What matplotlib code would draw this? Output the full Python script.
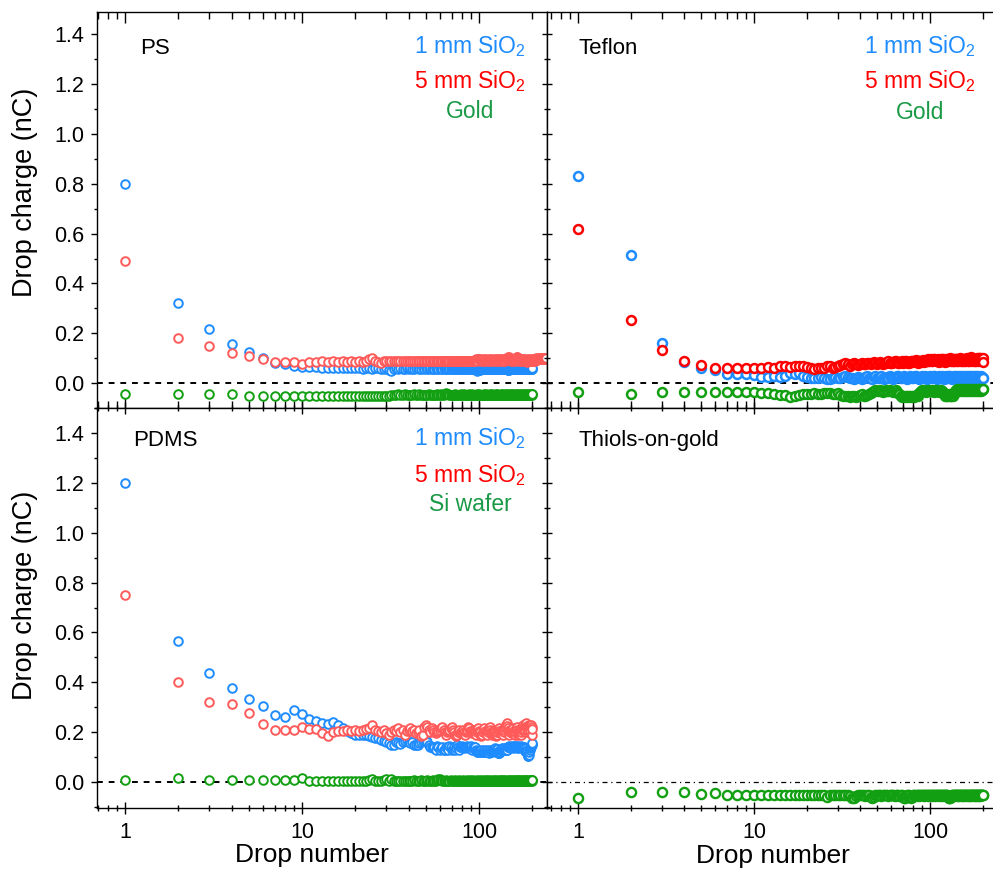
import numpy as np
import matplotlib
matplotlib.use("Agg")
import matplotlib.pyplot as plt
from matplotlib.ticker import LogLocator, MultipleLocator, FormatStrFormatter, NullFormatter

plt.rcParams['font.family'] = ['Liberation Sans', 'DejaVu Sans']
plt.rcParams['mathtext.fontset'] = 'custom'
plt.rcParams['mathtext.rm'] = 'Liberation Sans'
plt.rcParams['mathtext.it'] = 'Liberation Sans:italic'

# ---- data: drop charge (nC) per drop number (1, 2, 3, ...) ----
ps_1mm = [0.80, 0.323, 0.218, 0.157, 0.126, 0.10, 0.08, 0.078, 0.068, 0.066, 0.066, 0.064, 0.06, 0.06, 0.061, 0.059, 0.06, 0.06, 0.059, 0.06,
          0.059, 0.058, 0.06, 0.059, 0.058, 0.06, 0.059, 0.058, 0.057, 0.06, 0.052, 0.05, 0.056, 0.06, 0.058, 0.059, 0.057, 0.058, 0.06, 0.058,
          0.059, 0.057, 0.058, 0.06, 0.059, 0.058, 0.057, 0.059, 0.058, 0.06, 0.058, 0.057, 0.059, 0.058, 0.056, 0.058, 0.059, 0.057, 0.058, 0.059,
          0.057, 0.058, 0.059, 0.056, 0.058, 0.057, 0.059, 0.058, 0.057, 0.058, 0.059, 0.058, 0.057, 0.058, 0.056, 0.058, 0.059, 0.057, 0.058, 0.058,
          0.057, 0.059, 0.058, 0.057, 0.058, 0.059, 0.057, 0.058, 0.056, 0.058, 0.057, 0.058, 0.059, 0.057, 0.058, 0.056, 0.052, 0.05, 0.051, 0.053,
          0.052, 0.055, 0.057, 0.058, 0.056, 0.057, 0.058, 0.056, 0.057, 0.058, 0.056, 0.058, 0.057, 0.056, 0.058, 0.057, 0.056, 0.058, 0.057, 0.056,
          0.058, 0.057, 0.056, 0.058, 0.057, 0.056, 0.058, 0.057, 0.056, 0.057, 0.058, 0.056, 0.057, 0.058, 0.056, 0.057, 0.058, 0.056, 0.057, 0.058,
          0.056, 0.057, 0.058, 0.055, 0.052, 0.051, 0.053, 0.055, 0.057, 0.056, 0.058, 0.057, 0.056, 0.058, 0.057, 0.056, 0.058, 0.057, 0.056, 0.057,
          0.058, 0.056, 0.057, 0.058, 0.056, 0.057, 0.058, 0.056, 0.057, 0.058, 0.056, 0.057, 0.058, 0.056, 0.057, 0.058, 0.056, 0.057, 0.058, 0.056,
          0.057, 0.058, 0.056, 0.057, 0.058, 0.056, 0.057, 0.058, 0.056, 0.057, 0.058, 0.056, 0.057, 0.058, 0.056, 0.057, 0.058, 0.057, 0.058, 0.059]
ps_5mm = [0.49, 0.18, 0.15, 0.12, 0.11, 0.095, 0.085, 0.085, 0.085, 0.075, 0.085, 0.085, 0.087, 0.085, 0.087, 0.085, 0.087, 0.085, 0.087, 0.085,
          0.087, 0.085, 0.09, 0.095, 0.10, 0.09, 0.085, 0.08, 0.087, 0.09, 0.09, 0.088, 0.09, 0.087, 0.09, 0.088, 0.09, 0.087, 0.09, 0.088,
          0.09, 0.088, 0.087, 0.09, 0.088, 0.09, 0.087, 0.088, 0.09, 0.088, 0.087, 0.09, 0.088, 0.09, 0.087, 0.088, 0.09, 0.088, 0.087, 0.09,
          0.088, 0.09, 0.087, 0.088, 0.09, 0.088, 0.087, 0.09, 0.088, 0.09, 0.087, 0.088, 0.09, 0.088, 0.087, 0.09, 0.088, 0.09, 0.087, 0.088,
          0.09, 0.088, 0.087, 0.09, 0.088, 0.09, 0.087, 0.088, 0.09, 0.088, 0.087, 0.09, 0.088, 0.09, 0.092, 0.095, 0.093, 0.09, 0.095, 0.097,
          0.093, 0.09, 0.095, 0.092, 0.09, 0.093, 0.095, 0.09, 0.092, 0.095, 0.093, 0.09, 0.092, 0.095, 0.093, 0.09, 0.095, 0.092, 0.09, 0.093,
          0.095, 0.092, 0.09, 0.093, 0.095, 0.09, 0.092, 0.095, 0.093, 0.09, 0.092, 0.095, 0.093, 0.09, 0.095, 0.092, 0.09, 0.093, 0.095, 0.092,
          0.09, 0.095, 0.093, 0.097, 0.10, 0.105, 0.103, 0.10, 0.097, 0.095, 0.093, 0.09, 0.095, 0.092, 0.09, 0.093, 0.095, 0.092, 0.09, 0.093,
          0.095, 0.10, 0.105, 0.103, 0.10, 0.097, 0.095, 0.093, 0.09, 0.092, 0.095, 0.093, 0.09, 0.095, 0.092, 0.09, 0.093, 0.095, 0.092, 0.09,
          0.093, 0.095, 0.092, 0.09, 0.088, 0.085, 0.088, 0.09, 0.093, 0.095, 0.092, 0.09, 0.093, 0.095, 0.092, 0.09, 0.088, 0.09, 0.093, 0.095,
          0.092, 0.09, 0.093, 0.095, 0.092, 0.09, 0.093, 0.095, 0.097, 0.10, 0.098, 0.095, 0.093, 0.095, 0.098, 0.10, 0.097, 0.095, 0.098, 0.10,
          0.098, 0.095, 0.097, 0.10, 0.098, 0.095, 0.097, 0.10, 0.102, 0.10, 0.098, 0.10, 0.097, 0.095, 0.098, 0.10, 0.102, 0.10, 0.098, 0.10]
ps_gold = [-0.045, -0.045, -0.045, -0.045, -0.053, -0.053, -0.053, -0.053, -0.052, -0.053, -0.053, -0.052, -0.053, -0.053, -0.052, -0.053, -0.052, -0.053, -0.053, -0.052,
           -0.053, -0.052, -0.053, -0.052, -0.053, -0.052, -0.053, -0.052, -0.05, -0.052, -0.05, -0.048, -0.047, -0.046, -0.045, -0.047, -0.046, -0.045, -0.047, -0.048,
           -0.047, -0.046, -0.045, -0.047, -0.046, -0.045, -0.047, -0.046, -0.048, -0.047, -0.046, -0.045, -0.047, -0.046, -0.048, -0.047, -0.046, -0.045, -0.047, -0.046,
           -0.045, -0.047, -0.046, -0.042, -0.04, -0.042, -0.045, -0.047, -0.046, -0.048, -0.047, -0.046, -0.045, -0.047, -0.046, -0.048, -0.047, -0.046, -0.045, -0.047,
           -0.046, -0.045, -0.047, -0.046, -0.048, -0.047, -0.046, -0.045, -0.047, -0.046, -0.045, -0.047, -0.046, -0.048, -0.047, -0.046, -0.045, -0.047, -0.046, -0.045,
           -0.047, -0.046, -0.048, -0.047, -0.046, -0.045, -0.047, -0.046, -0.045, -0.047, -0.046, -0.048, -0.047, -0.046, -0.045, -0.047, -0.046, -0.045, -0.047, -0.046,
           -0.048, -0.047, -0.046, -0.045, -0.047, -0.046, -0.045, -0.047, -0.046, -0.048, -0.047, -0.046, -0.045, -0.047, -0.046, -0.045, -0.047, -0.046, -0.048, -0.047,
           -0.046, -0.045, -0.047, -0.046, -0.045, -0.047, -0.046, -0.048, -0.047, -0.046, -0.045, -0.047, -0.046, -0.045, -0.047, -0.046, -0.048, -0.047, -0.046, -0.045,
           -0.047, -0.046, -0.045, -0.047, -0.046, -0.048, -0.047, -0.046, -0.045, -0.047, -0.046, -0.045, -0.047, -0.046, -0.048, -0.047, -0.046, -0.045, -0.047, -0.046,
           -0.045, -0.047, -0.046, -0.048, -0.047, -0.046, -0.045, -0.047, -0.046, -0.045, -0.047, -0.046, -0.048, -0.047, -0.046, -0.045, -0.047, -0.046, -0.045, -0.045]

teflon_1mm = [0.83, 0.515, 0.16, 0.085, 0.059, 0.052, 0.035, 0.035, 0.035, 0.033, 0.025, 0.025, 0.027, 0.025, 0.03, 0.04, 0.035, 0.04, 0.03, 0.025,
              0.022, 0.02, 0.022, 0.025, 0.02, 0.015, 0.018, 0.022, 0.025, 0.02, 0.022, 0.025, 0.03, 0.025, 0.022, 0.02, 0.018, 0.022, 0.025, 0.02,
              0.018, 0.022, 0.025, 0.028, 0.022, 0.02, 0.018, 0.025, 0.028, 0.022, 0.02, 0.025, 0.028, 0.022, 0.018, 0.02, 0.025, 0.022, 0.028, 0.025,
              0.02, 0.018, 0.022, 0.025, 0.028, 0.03, 0.025, 0.022, 0.02, 0.025, 0.028, 0.022, 0.02, 0.018, 0.022, 0.025, 0.028, 0.025, 0.022, 0.02,
              0.025, 0.028, 0.03, 0.025, 0.022, 0.02, 0.018, 0.022, 0.025, 0.028, 0.022, 0.02, 0.025, 0.028, 0.022, 0.018, 0.02, 0.025, 0.022, 0.028,
              0.025, 0.022, 0.02, 0.025, 0.03, 0.028, 0.022, 0.02, 0.018, 0.022, 0.025, 0.028, 0.025, 0.022, 0.02, 0.025, 0.028, 0.022, 0.02, 0.018,
              0.022, 0.025, 0.028, 0.025, 0.022, 0.02, 0.025, 0.028, 0.03, 0.025, 0.022, 0.02, 0.018, 0.022, 0.025, 0.028, 0.022, 0.02, 0.025, 0.028,
              0.022, 0.018, 0.02, 0.025, 0.022, 0.028, 0.025, 0.022, 0.02, 0.025, 0.028, 0.022, 0.02, 0.018, 0.022, 0.025, 0.028, 0.025, 0.022, 0.02,
              0.025, 0.028, 0.022, 0.02, 0.025, 0.028, 0.022, 0.018, 0.02, 0.025, 0.022, 0.028, 0.025, 0.022, 0.02, 0.025, 0.028, 0.022, 0.02, 0.018,
              0.022, 0.025, 0.028, 0.025, 0.022, 0.02, 0.025, 0.028, 0.022, 0.02, 0.018, 0.022, 0.025, 0.028, 0.025, 0.022, 0.02, 0.025, 0.022, 0.022]
teflon_5mm = [0.62, 0.253, 0.133, 0.089, 0.072, 0.062, 0.059, 0.059, 0.059, 0.06, 0.062, 0.065, 0.06, 0.068, 0.07, 0.065, 0.07, 0.07, 0.068, 0.065,
              0.06, 0.058, 0.06, 0.062, 0.06, 0.068, 0.07, 0.06, 0.065, 0.07, 0.072, 0.075, 0.08, 0.075, 0.07, 0.078, 0.08, 0.075, 0.072, 0.078,
              0.08, 0.078, 0.075, 0.08, 0.082, 0.078, 0.08, 0.085, 0.08, 0.078, 0.082, 0.085, 0.08, 0.078, 0.082, 0.08, 0.085, 0.088, 0.082, 0.08,
              0.082, 0.085, 0.088, 0.09, 0.085, 0.082, 0.08, 0.085, 0.088, 0.082, 0.085, 0.09, 0.088, 0.085, 0.082, 0.08, 0.085, 0.088, 0.09, 0.085,
              0.088, 0.09, 0.092, 0.088, 0.085, 0.082, 0.088, 0.09, 0.085, 0.088, 0.092, 0.09, 0.085, 0.088, 0.09, 0.092, 0.095, 0.09, 0.088, 0.092,
              0.095, 0.09, 0.088, 0.092, 0.095, 0.098, 0.092, 0.09, 0.088, 0.092, 0.095, 0.09, 0.085, 0.088, 0.092, 0.095, 0.098, 0.095, 0.09, 0.088,
              0.085, 0.088, 0.092, 0.095, 0.09, 0.088, 0.092, 0.095, 0.098, 0.1, 0.095, 0.09, 0.088, 0.092, 0.095, 0.09, 0.088, 0.092, 0.095, 0.098,
              0.095, 0.092, 0.09, 0.088, 0.092, 0.095, 0.098, 0.1, 0.095, 0.092, 0.09, 0.088, 0.092, 0.095, 0.098, 0.095, 0.09, 0.088, 0.092, 0.095,
              0.098, 0.1, 0.095, 0.092, 0.088, 0.09, 0.095, 0.098, 0.1, 0.105, 0.1, 0.095, 0.092, 0.09, 0.095, 0.098, 0.095, 0.092, 0.09, 0.088,
              0.092, 0.095, 0.098, 0.1, 0.095, 0.092, 0.09, 0.095, 0.098, 0.1, 0.102, 0.098, 0.095, 0.092, 0.098, 0.1, 0.095, 0.092, 0.1, 0.085]
teflon_gold = [-0.034, -0.044, -0.034, -0.034, -0.034, -0.035, -0.035, -0.035, -0.036, -0.036, -0.038, -0.04, -0.045, -0.046, -0.048, -0.055, -0.05, -0.046, -0.045, -0.044,
               -0.045, -0.04, -0.042, -0.045, -0.04, -0.038, -0.04, -0.042, -0.045, -0.04, -0.048, -0.05, -0.052, -0.05, -0.055, -0.05, -0.052, -0.055, -0.05, -0.048,
               -0.045, -0.05, -0.052, -0.048, -0.045, -0.04, -0.035, -0.03, -0.028, -0.03, -0.032, -0.028, -0.03, -0.035, -0.03, -0.028, -0.032, -0.03, -0.028, -0.03,
               -0.032, -0.035, -0.03, -0.028, -0.035, -0.04, -0.045, -0.05, -0.055, -0.052, -0.05, -0.055, -0.052, -0.05, -0.055, -0.05, -0.052, -0.055, -0.05, -0.052,
               -0.055, -0.05, -0.052, -0.048, -0.05, -0.045, -0.04, -0.035, -0.03, -0.028, -0.03, -0.032, -0.028, -0.03, -0.035, -0.032, -0.03, -0.028, -0.03, -0.032,
               -0.03, -0.028, -0.03, -0.032, -0.035, -0.03, -0.028, -0.032, -0.03, -0.028, -0.03, -0.035, -0.032, -0.03, -0.028, -0.03, -0.032, -0.035, -0.04, -0.045,
               -0.05, -0.048, -0.045, -0.05, -0.052, -0.048, -0.05, -0.045, -0.048, -0.05, -0.052, -0.05, -0.045, -0.048, -0.05, -0.045, -0.04, -0.035, -0.03, -0.028,
               -0.03, -0.028, -0.025, -0.028, -0.03, -0.027, -0.025, -0.028, -0.03, -0.028, -0.025, -0.027, -0.03, -0.028, -0.025, -0.027, -0.028, -0.03, -0.028, -0.025,
               -0.027, -0.03, -0.028, -0.025, -0.027, -0.028, -0.03, -0.028, -0.025, -0.027, -0.03, -0.028, -0.025, -0.027, -0.028, -0.03, -0.028, -0.025, -0.027, -0.03,
               -0.028, -0.025, -0.027, -0.028, -0.03, -0.028, -0.025, -0.027, -0.03, -0.028, -0.025, -0.027, -0.028, -0.03, -0.028, -0.025, -0.027, -0.028, -0.025, -0.025]

pdms_1mm = [1.20, 0.567, 0.438, 0.376, 0.332, 0.305, 0.269, 0.262, 0.289, 0.273, 0.252, 0.246, 0.238, 0.232, 0.24, 0.229, 0.215, 0.205, 0.195, 0.19,
            0.19, 0.188, 0.19, 0.185, 0.18, 0.175, 0.178, 0.17, 0.165, 0.16, 0.155, 0.148, 0.15, 0.16, 0.155, 0.152, 0.16, 0.165, 0.17, 0.16,
            0.155, 0.16, 0.15, 0.148, 0.148, 0.155, 0.16, 0.165, 0.17, 0.17, 0.16, 0.15, 0.14, 0.142, 0.135, 0.14, 0.13, 0.145, 0.14, 0.13,
            0.135, 0.14, 0.13, 0.128, 0.14, 0.135, 0.13, 0.145, 0.14, 0.128, 0.132, 0.14, 0.13, 0.135, 0.15, 0.14, 0.13, 0.14, 0.142, 0.145,
            0.14, 0.135, 0.142, 0.14, 0.145, 0.14, 0.138, 0.142, 0.14, 0.145, 0.13, 0.14, 0.135, 0.142, 0.14, 0.13, 0.125, 0.122, 0.12, 0.125,
            0.122, 0.12, 0.128, 0.122, 0.12, 0.125, 0.13, 0.122, 0.12, 0.125, 0.13, 0.122, 0.12, 0.118, 0.125, 0.13, 0.122, 0.12, 0.128, 0.125,
            0.125, 0.13, 0.135, 0.13, 0.128, 0.132, 0.12, 0.116, 0.115, 0.116, 0.12, 0.128, 0.13, 0.135, 0.13, 0.128, 0.132, 0.13, 0.135, 0.13,
            0.13, 0.135, 0.128, 0.13, 0.14, 0.142, 0.14, 0.145, 0.14, 0.142, 0.142, 0.14, 0.145, 0.14, 0.142, 0.138, 0.14, 0.145, 0.142, 0.14,
            0.145, 0.14, 0.142, 0.138, 0.14, 0.145, 0.142, 0.14, 0.135, 0.14, 0.142, 0.14, 0.145, 0.14, 0.142, 0.138, 0.14, 0.142, 0.14, 0.135,
            0.13, 0.125, 0.12, 0.13, 0.135, 0.128, 0.12, 0.11, 0.105, 0.104, 0.11, 0.12, 0.13, 0.135, 0.14, 0.142, 0.145, 0.15, 0.152, 0.155]
pdms_5mm = [0.752, 0.40, 0.323, 0.313, 0.278, 0.233, 0.209, 0.209, 0.209, 0.22, 0.212, 0.212, 0.196, 0.185, 0.20, 0.205, 0.205, 0.21, 0.205, 0.21,
            0.205, 0.21, 0.212, 0.215, 0.229, 0.21, 0.205, 0.20, 0.21, 0.195, 0.19, 0.20, 0.21, 0.205, 0.215, 0.20, 0.21, 0.19, 0.205, 0.21,
            0.215, 0.205, 0.21, 0.195, 0.20, 0.21, 0.185, 0.19, 0.22, 0.23, 0.22, 0.21, 0.20, 0.215, 0.21, 0.20, 0.195, 0.20, 0.205, 0.21,
            0.215, 0.22, 0.21, 0.20, 0.19, 0.20, 0.205, 0.21, 0.215, 0.22, 0.21, 0.20, 0.19, 0.185, 0.19, 0.20, 0.21, 0.195, 0.20, 0.205,
            0.21, 0.20, 0.19, 0.20, 0.205, 0.21, 0.22, 0.215, 0.205, 0.20, 0.195, 0.20, 0.21, 0.205, 0.20, 0.19, 0.20, 0.21, 0.215, 0.205,
            0.20, 0.19, 0.185, 0.19, 0.20, 0.21, 0.215, 0.205, 0.20, 0.195, 0.19, 0.20, 0.21, 0.215, 0.22, 0.21, 0.20, 0.19, 0.195, 0.20,
            0.21, 0.205, 0.20, 0.19, 0.185, 0.19, 0.20, 0.21, 0.215, 0.205, 0.20, 0.195, 0.20, 0.21, 0.205, 0.20, 0.19, 0.20, 0.21, 0.215,
            0.22, 0.23, 0.235, 0.225, 0.215, 0.205, 0.20, 0.19, 0.20, 0.21, 0.205, 0.20, 0.195, 0.20, 0.21, 0.215, 0.205, 0.20, 0.19, 0.20,
            0.21, 0.215, 0.22, 0.21, 0.20, 0.19, 0.195, 0.20, 0.21, 0.205, 0.20, 0.19, 0.20, 0.21, 0.215, 0.22, 0.225, 0.23, 0.22, 0.21,
            0.20, 0.21, 0.22, 0.23, 0.235, 0.225, 0.215, 0.205, 0.20, 0.21, 0.22, 0.23, 0.225, 0.215, 0.21, 0.22, 0.23, 0.22, 0.19, 0.214]
pdms_si = [0.008, 0.016, 0.008, 0.008, 0.008, 0.008, 0.008, 0.008, 0.008, 0.015, 0.006, 0.006, 0.005, 0.006, 0.005, 0.006, 0.005, 0.006, 0.006, 0.005,
           0.006, 0.005, 0.006, 0.008, 0.014, 0.006, 0.005, 0.006, 0.008, 0.014, 0.006, 0.013, 0.006, 0.005, 0.006, 0.005, 0.006, 0.006, 0.005, 0.006,
           0.005, 0.006, 0.007, 0.006, 0.005, 0.006, 0.007, 0.006, 0.005, 0.006, 0.007, 0.006, 0.005, 0.006, 0.007, 0.006, 0.005, 0.008, 0.012, 0.014,
           0.008, 0.006, 0.005, 0.006, 0.007, 0.006, 0.005, 0.006, 0.007, 0.006, 0.005, 0.006, 0.007, 0.006, 0.005, 0.006, 0.007, 0.006, 0.005, 0.006,
           0.007, 0.006, 0.005, 0.006, 0.007, 0.006, 0.005, 0.006, 0.007, 0.006, 0.005, 0.006, 0.007, 0.006, 0.005, 0.006, 0.007, 0.006, 0.005, 0.006,
           0.007, 0.006, 0.005, 0.006, 0.007, 0.006, 0.005, 0.006, 0.007, 0.006, 0.005, 0.006, 0.007, 0.006, 0.005, 0.006, 0.007, 0.006, 0.005, 0.006,
           0.007, 0.006, 0.005, 0.006, 0.007, 0.006, 0.005, 0.006, 0.007, 0.006, 0.005, 0.006, 0.007, 0.006, 0.005, 0.006, 0.007, 0.006, 0.005, 0.006,
           0.007, 0.006, 0.005, 0.006, 0.007, 0.006, 0.005, 0.006, 0.007, 0.006, 0.005, 0.006, 0.007, 0.006, 0.005, 0.006, 0.007, 0.006, 0.005, 0.006,
           0.007, 0.006, 0.005, 0.006, 0.007, 0.006, 0.005, 0.006, 0.007, 0.006, 0.005, 0.006, 0.007, 0.006, 0.005, 0.006, 0.007, 0.006, 0.005, 0.006,
           0.007, 0.006, 0.005, 0.006, 0.007, 0.006, 0.005, 0.006, 0.007, 0.006, 0.005, 0.006, 0.007, 0.006, 0.005, 0.006, 0.007, 0.006, 0.007, 0.008]

thiol_gold = [-0.065, -0.041, -0.041, -0.041, -0.047, -0.045, -0.05, -0.05, -0.05, -0.05, -0.05, -0.05, -0.05, -0.05, -0.05, -0.05, -0.05, -0.05, -0.05, -0.05,
              -0.05, -0.05, -0.05, -0.05, -0.05, -0.06, -0.052, -0.05, -0.05, -0.05, -0.05, -0.05, -0.052, -0.05, -0.055, -0.065, -0.062, -0.055, -0.052, -0.05,
              -0.05, -0.052, -0.055, -0.05, -0.052, -0.06, -0.065, -0.058, -0.052, -0.05, -0.052, -0.05, -0.055, -0.052, -0.05, -0.052, -0.05, -0.055, -0.052, -0.05,
              -0.052, -0.05, -0.055, -0.052, -0.05, -0.052, -0.055, -0.05, -0.052, -0.06, -0.065, -0.062, -0.055, -0.052, -0.05, -0.052, -0.06, -0.065, -0.058, -0.052,
              -0.05, -0.052, -0.055, -0.05, -0.052, -0.05, -0.055, -0.052, -0.05, -0.052, -0.05, -0.055, -0.052, -0.05, -0.052, -0.05, -0.055, -0.052, -0.05, -0.052,
              -0.05, -0.055, -0.052, -0.05, -0.052, -0.05, -0.055, -0.052, -0.05, -0.052, -0.05, -0.055, -0.052, -0.05, -0.052, -0.05, -0.055, -0.052, -0.05, -0.052,
              -0.05, -0.055, -0.052, -0.05, -0.052, -0.055, -0.06, -0.065, -0.062, -0.065, -0.06, -0.055, -0.052, -0.05, -0.052, -0.05, -0.055, -0.052, -0.05, -0.052,
              -0.05, -0.055, -0.052, -0.05, -0.052, -0.05, -0.055, -0.052, -0.05, -0.052, -0.05, -0.055, -0.052, -0.05, -0.052, -0.05, -0.055, -0.052, -0.05, -0.052,
              -0.05, -0.055, -0.052, -0.05, -0.052, -0.05, -0.055, -0.052, -0.05, -0.052, -0.05, -0.055, -0.052, -0.05, -0.052, -0.05, -0.055, -0.052, -0.05, -0.052,
              -0.05, -0.055, -0.052, -0.05, -0.052, -0.05, -0.055, -0.052, -0.05, -0.052, -0.05, -0.055, -0.052, -0.05, -0.052, -0.05, -0.052, -0.05, -0.05, -0.05]

BLUE = '#1E8CFF'
LRED = '#FF5A5A'
RED = '#FF0000'
GREEN = '#12A012'
TGREEN = '#1A9A46'


def drops(vals):
    return np.arange(1, len(vals) + 1)


def rings(ax, vals, color, ms=6.2, mew=1.4, clip=True):
    ax.plot(drops(vals), vals, 'o', ls='none', mfc='white', mec=color,
            ms=ms, mew=mew, clip_on=clip)


def style(ax, xlim, ylim, left_labels, bottom_labels, ydir):
    ax.set_xscale('log')
    ax.set_xlim(*xlim)
    ax.set_ylim(*ylim)
    ax.xaxis.set_major_locator(LogLocator(base=10, numticks=10))
    ax.xaxis.set_minor_locator(LogLocator(base=10, subs=np.arange(2, 10), numticks=10))
    ax.yaxis.set_major_locator(MultipleLocator(0.2))
    ax.yaxis.set_minor_locator(MultipleLocator(0.1))
    ax.yaxis.set_major_formatter(FormatStrFormatter('%.1f'))
    xdir = 'inout' if bottom_labels else 'in'
    ax.tick_params(axis='x', which='both', top=True, bottom=True, direction=xdir,
                   labelbottom=bottom_labels, labelsize=15.5, pad=6)
    ax.tick_params(axis='x', which='major', length=8, width=1)
    ax.tick_params(axis='x', which='minor', length=5, width=1)
    ax.tick_params(axis='y', which='both', left=True, right=False, direction=ydir,
                   labelleft=left_labels, labelsize=15.5, pad=5)
    ax.tick_params(axis='y', which='major', length=4 if ydir == 'out' else 7, width=1)
    ax.tick_params(axis='y', which='minor', length=2.5 if ydir == 'out' else 5, width=1)
    if bottom_labels:
        ax.xaxis.set_major_formatter(FormatStrFormatter('%d'))
    ax.xaxis.set_minor_formatter(NullFormatter())
    for s in ax.spines.values():
        s.set_linewidth(1.0)


def labels(ax, name, lines, cx, ys, name_xy):
    ax.text(name_xy[0], name_xy[1], name, transform=ax.transAxes, fontsize=16,
            ha='left', va='center', color='black')
    for (txt, col), y in zip(lines, ys):
        ax.text(cx, y, txt, transform=ax.transAxes, fontsize=16.5, ha='center',
                va='center', color=col)


fig = plt.figure(figsize=(9.93, 8.71), dpi=100)
W, H = 993, 871
ax_ps = fig.add_axes([97 / W, 1 - 408 / H, 450 / W, 396 / H])
ax_tf = fig.add_axes([547 / W, 1 - 408 / H, 446 / W, 396 / H])
ax_pd = fig.add_axes([97 / W, 1 - 808 / H, 450 / W, 400 / H])
ax_th = fig.add_axes([547 / W, 1 - 808 / H, 446 / W, 400 / H])

xl_left = (0.695, 242)
xl_right = (0.667, 228)

# PS
ax_ps.axhline(0, color='black', lw=1.4, ls=(0, (3, 3)), zorder=1)
rings(ax_ps, ps_1mm, BLUE)
rings(ax_ps, ps_5mm, LRED, clip=False)
rings(ax_ps, ps_gold, GREEN)
style(ax_ps, xl_left, (-0.1, 1.49), True, False, 'out')

# Teflon
ax_tf.axhline(0, color='black', lw=1.4, ls=(0, (3, 3)), zorder=1)
rings(ax_tf, teflon_1mm, BLUE, ms=6.4, mew=1.8)
rings(ax_tf, teflon_5mm, RED, ms=6.4, mew=1.8)
rings(ax_tf, teflon_gold, GREEN, ms=6.4, mew=1.8)
style(ax_tf, xl_right, (-0.1, 1.49), False, False, 'inout')
ax_tf.spines['right'].set_visible(False)

# PDMS
ax_pd.axhline(0, color='black', lw=1.4, ls=(0, (3, 3)), zorder=1)
rings(ax_pd, pdms_1mm, BLUE)
rings(ax_pd, pdms_5mm, LRED)
rings(ax_pd, pdms_si, GREEN)
style(ax_pd, xl_left, (-0.104, 1.5), True, True, 'out')

# Thiols-on-gold
ax_th.axhline(0, color='black', lw=0.9, ls=(0, (4, 3, 1, 3)), zorder=1)
rings(ax_th, thiol_gold, GREEN, ms=6.6, mew=1.7)
style(ax_th, xl_right, (-0.104, 1.5), False, True, 'inout')
ax_th.spines['right'].set_visible(False)

sio1 = '1 mm SiO$_\\mathregular{2}$'
sio5 = '5 mm SiO$_\\mathregular{2}$'
labels(ax_ps, 'PS', [(sio1, BLUE), (sio5, RED), ('Gold', TGREEN)],
       0.829, [0.914, 0.826, 0.750], (0.096, 0.909))
labels(ax_tf, 'Teflon', [(sio1, BLUE), (sio5, RED), ('Gold', TGREEN)],
       0.836, [0.914, 0.826, 0.745], (0.07, 0.909))
labels(ax_pd, 'PDMS', [(sio1, BLUE), (sio5, RED), ('Si wafer', TGREEN)],
       0.829, [0.925, 0.833, 0.758], (0.08, 0.92))
labels(ax_th, 'Thiols-on-gold', [], 0.8, [], (0.07, 0.92))

fig.text(25 / W, 1 - 192 / H, 'Drop charge (nC)', rotation=90, fontsize=19.5,
         ha='center', va='center')
fig.text(25 / W, 1 - 595 / H, 'Drop charge (nC)', rotation=90, fontsize=19.5,
         ha='center', va='center')
fig.text(312 / W, 1 - 855 / H, 'Drop number', fontsize=19, ha='center', va='center')
fig.text(773 / W, 1 - 856 / H, 'Drop number', fontsize=19, ha='center', va='center')

fig.savefig('out.png', dpi=100)
